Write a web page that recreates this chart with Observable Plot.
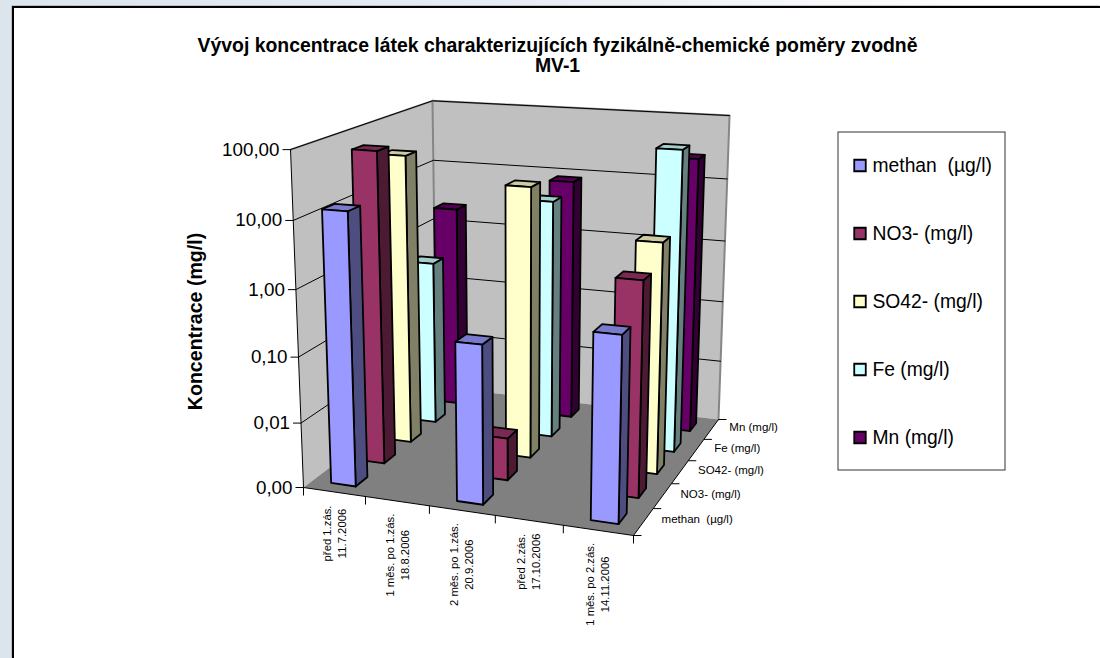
<!DOCTYPE html>
<html lang="cs">
<head>
<meta charset="utf-8">
<script src="https://cdn.jsdelivr.net/npm/d3@7"></script>
<script src="https://cdn.jsdelivr.net/npm/@observablehq/plot@0.6"></script>
<style>
html,body{margin:0;padding:0;width:1100px;height:658px;overflow:hidden;background:linear-gradient(90deg,#dce4ec 0%,#e6ecf3 45%,#ffffff 90%);}
#panel{position:absolute;left:12px;top:6px;width:1088px;height:652px;background:#fff;border-left:2px solid #000;border-top:2px solid #000;box-sizing:border-box;box-shadow:-0.5px -0.5px 0 #999;}
#chart{position:absolute;left:0;top:0;}
svg{background:transparent!important;font-family:"Liberation Sans",Arial,sans-serif;}
</style>
</head>
<body>
<div id="panel"></div>
<div id="chart"></div>
<script>
const titleLines = ["Vývoj koncentrace látek charakterizujících fyzikálně-chemické poměry zvodně", "MV-1"];
const yAxisTitle = "Koncentrace (mg/l)";
const categories = ["před 1.zás.\n11.7.2006", "1 měs. po 1.zás.\n18.8.2006", "2 měs. po 1.zás.\n20.9.2006", "před 2.zás.\n17.10.2006", "1 měs. po 2.zás.\n14.11.2006"];
const seriesNames = ["methan  (µg/l)", "NO3- (mg/l)", "SO42- (mg/l)", "Fe (mg/l)", "Mn (mg/l)"];
const methan = [13.2, null, 0.24, null, 0.53];
const no3 = [64, null, 0.0045, null, 1.7];
const so4 = [37, null, 16.7, null, 3.5];
const fe = [0.46, null, 6.4, null, 53];
const mn = [2.2, null, 8.5, null, 26];
const tickValues = [100, 10, 1, 0.1, 0.01, 0.001];
const tickLabels = ["100,00", "10,00", "1,00", "0,10", "0,01", "0,00"];
const frontColors = ["#9999ff", "#993366", "#ffffcc", "#ccffff", "#660066"];
const sideColors = ["#4d4d80", "#4d1a33", "#808066", "#668080", "#330033"];
const topColors = ["#7a7acc", "#7a2952", "#cccca3", "#a3cccc", "#520052"];

const W = 1100, H = 658;
const seriesValues = [methan, no3, so4, fe, mn];

// Perspective camera of the 3-D box: floor corners and the vanishing point of its verticals
const [x0,y0] = [303,487], [x1,y1] = [633,535], [x2,y2] = [718,419], [x3,y3] = [436,386];
const dx1=x1-x2, dx2=x3-x2, sx=x0-x1+x2-x3, dy1=y1-y2, dy2=y3-y2, sy=y0-y1+y2-y3;
const det=dx1*dy2-dx2*dy1, g=(sx*dy2-dx2*sy)/det, h=(dx1*sy-sx*dy1)/det;
const a=x1-x0+g*x1, b=x3-x0+h*x3, d=y1-y0+g*y1, e=y3-y0+h*y3;
const gw=-0.0577, vx=515, vy=6005;
function project(u,v,w){
  const q=1+g*u+h*v+gw*w;
  return {x:(a*u+b*v+x0+gw*vx*w)/q, y:(d*u+e*v+y0+gw*vy*w)/q};
}
const height3d = d3.scaleLog().domain([0.001,100]).range([0,1]);
const nC = categories.length, nS = seriesNames.length;

// Faces of the bars, back row first
const faces = [];
function face(id,fill,corners){ corners.forEach(c=>faces.push({id,fill,...project(...c)})); }
for(let s=nS-1;s>=0;s--) for(let c=0;c<nC;c++){
  const val=seriesValues[s][c]; if(val==null) continue;
  const w=height3d(val);
  const u0=(c+.3)/nC,u1=(c+.7)/nC,v0=(s+.3)/nS,v1=(s+.7)/nS,id=`${s}-${c}`;
  face(id+"s",sideColors[s],[[u1,v0,0],[u1,v1,0],[u1,v1,w],[u1,v0,w]]);
  face(id+"t",topColors[s],[[u0,v0,w],[u1,v0,w],[u1,v1,w],[u0,v1,w]]);
  face(id+"f",frontColors[s],[[u0,v0,0],[u1,v0,0],[u1,v0,w],[u0,v0,w]]);
}
const poly=(id,fill,cs)=>cs.map(c=>({id,fill,...project(...c)}));
const walls=[...poly("l","#c0c0c0",[[0,0,0],[0,1,0],[0,1,1],[0,0,1]]),...poly("b","#c0c0c0",[[0,1,0],[1,1,0],[1,1,1],[0,1,1]])];
const floor=poly("f","#808080",[[0,0,0],[1,0,0],[1,1,0],[0,1,0]]);
const wallEdge=poly("e","none",[[0,0,1],[0,1,1],[1,1,1],[1,1,0]]);
const corner=poly("c","none",[[0,1,0],[0,1,1]]);
const grid=tickValues.slice(0,-1).flatMap(t=>{const w=height3d(t);return poly("g"+t,"none",[[0,0,w],[0,1,w],[1,1,w]]);});
const axisLines=poly("a","none",[[0,0,1],[0,0,0],[1,0,0],[1,1,0]]);
const valueTicks=tickValues.map((t,i)=>({...project(0,0,height3d(t)),label:tickLabels[i]}));
const catTicks=d3.range(nC+1).map(i=>project(i/nC,0,0));
const serTicks=d3.range(nS+1).map(i=>project(1,i/nS,0));
const catLabels=categories.map((t,i)=>({...project((i+.5)/nC,0,0),t,len:Math.max(...t.split("\n").map(l=>l.length))}));
const serLabels=seriesNames.map((t,i)=>({...project(1,(i+.5)/nS,0),t}));

const legendY=d3.scaleLinear().domain([0,nS-1]).range([165,437]);
const legendRows=seriesNames.map((t,i)=>({t,c:frontColors[i],y:legendY(i)}));
const text=t=>t.replace(/ {2}/g," \u00a0");

const chart=Plot.plot({
  width:W,height:H,margin:0,
  x:{domain:[0,W],range:[0,W],axis:null},
  y:{domain:[0,H],range:[0,H],axis:null},
  marks:[
    Plot.line(walls,{x:"x",y:"y",z:"id",fill:"fill",stroke:"none",curve:"linear-closed"}),
    Plot.line(floor,{x:"x",y:"y",z:"id",fill:"fill",stroke:"none",curve:"linear-closed"}),
    Plot.line(wallEdge,{x:"x",y:"y",stroke:"#868686",strokeWidth:2}),
    Plot.line(corner,{x:"x",y:"y",stroke:"#868686",strokeWidth:2}),
    Plot.line(grid,{x:"x",y:"y",z:"id",stroke:"#000",strokeWidth:1}),
    Plot.line(axisLines,{x:"x",y:"y",stroke:"#000",strokeWidth:1}),
    Plot.link(valueTicks,{x1:"x",y1:"y",x2:d=>d.x-8,y2:"y",stroke:"#000",strokeWidth:1}),
    Plot.link(catTicks,{x1:"x",y1:"y",x2:"x",y2:d=>d.y+8,stroke:"#000",strokeWidth:1}),
    Plot.link(serTicks,{x1:"x",y1:"y",x2:d=>d.x+8,y2:"y",stroke:"#000",strokeWidth:1}),
    Plot.line(faces,{x:"x",y:"y",z:"id",fill:"fill",stroke:"#000",strokeWidth:1.8,strokeLinejoin:"round",curve:"linear-closed"}),
    Plot.text(valueTicks,{x:d=>d.x-11,y:"y",text:"label",textAnchor:"end",fontSize:18.8,fill:"#000"}),
    Plot.text(catLabels,{x:d=>d.x-1,y:d=>d.y+14+2.5*d.len,text:"t",rotate:-90,textAnchor:"middle",fontSize:11.3,fill:"#000",lineHeight:1.33}),
    Plot.text(serLabels,{x:d=>d.x+18,y:d=>d.y-2,text:d=>text(d.t),textAnchor:"start",fontSize:11.5,fill:"#000"}),
    Plot.text(titleLines,{x:557,y:(d,i)=>45+i*20,text:d=>d,fontWeight:"bold",fontSize:19.4,fill:"#000"}),
    Plot.text([yAxisTitle],{x:195,y:321,text:d=>d,rotate:-90,fontWeight:"bold",fontSize:19.6,fill:"#000"}),
    Plot.rect([0],{x1:838,x2:1005,y1:132,y2:470,fill:"#fff",stroke:"#333",strokeWidth:1}),
    Plot.dot(legendRows,{x:859.5,y:"y",symbol:"square",r:6.5,fill:"c",stroke:"#000",strokeWidth:1.8}),
    Plot.text(legendRows,{x:872,y:"y",text:d=>text(d.t),textAnchor:"start",fontSize:19.3,fill:"#000"})
  ]
});
document.getElementById("chart").appendChild(chart);
</script>
</body>
</html>
